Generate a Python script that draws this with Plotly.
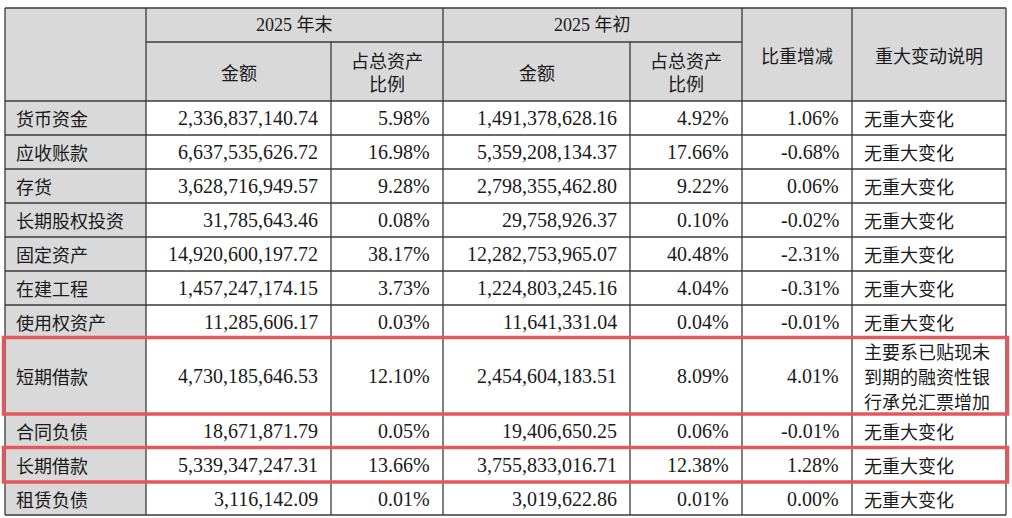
import plotly.graph_objects as go

# ---------------- data ----------------
labels = ["货币资金", "应收账款", "存货", "长期股权投资", "固定资产", "在建工程",
          "使用权资产", "短期借款", "合同负债", "长期借款", "租赁负债"]
end_amount = ["2,336,837,140.74", "6,637,535,626.72", "3,628,716,949.57", "31,785,643.46",
              "14,920,600,197.72", "1,457,247,174.15", "11,285,606.17", "4,730,185,646.53",
              "18,671,871.79", "5,339,347,247.31", "3,116,142.09"]
end_pct = ["5.98%", "16.98%", "9.28%", "0.08%", "38.17%", "3.73%", "0.03%", "12.10%",
           "0.05%", "13.66%", "0.01%"]
begin_amount = ["1,491,378,628.16", "5,359,208,134.37", "2,798,355,462.80", "29,758,926.37",
                "12,282,753,965.07", "1,224,803,245.16", "11,641,331.04", "2,454,604,183.51",
                "19,406,650.25", "3,755,833,016.71", "3,019,622.86"]
begin_pct = ["4.92%", "17.66%", "9.22%", "0.10%", "40.48%", "4.04%", "0.04%", "8.09%",
             "0.06%", "12.38%", "0.01%"]
change_pct = ["1.06%", "-0.68%", "0.06%", "-0.02%", "-2.31%", "-0.31%", "-0.01%", "4.01%",
              "-0.01%", "1.28%", "0.00%"]
notes = ["无重大变化"] * 7 + ["主要系已贴现未到期的融资性银行承兑汇票增加"] + ["无重大变化"] * 3
highlighted = ["短期借款", "长期借款"]

group_headers = ["2025 年末", "2025 年初"]
sub_headers = ["金额", "占总资产<br>比例"]
single_headers = ["比重增减", "重大变动说明"]

# ---------------- layout constants ----------------
W, H = 1012, 518
col_edges = [5, 146, 331, 443, 630, 742, 852, 1006]
top = 8
head_split = 42
head_bottom = 101
row_heights = [34, 34, 34, 34, 34, 34, 33, 76, 34, 34, 33]
NUM_FONT = "Liberation Serif, Noto Sans CJK SC, serif"
CJK_FONT = "Noto Sans CJK SC, sans-serif"
NUM_FS = 20
CJK_FS = 18
NOTE_WRAP = 7
NOTE_LINE = 25
GRID = "#3a3a3a"
GRAY = "#d9d9d9"
RED = "#e3585b"

row_edges = [head_bottom]
for h in row_heights:
    row_edges.append(row_edges[-1] + h)
bottom = row_edges[-1]

shapes = []
annotations = []

def rect(x0, y0, x1, y1, fill):
    shapes.append(dict(type="rect", xref="x", yref="y", x0=x0, y0=y0, x1=x1, y1=y1,
                       fillcolor=fill, line=dict(width=0), layer="below"))

def line(x0, y0, x1, y1, color=GRID, width=1.3):
    shapes.append(dict(type="line", xref="x", yref="y", x0=x0, y0=y0, x1=x1, y1=y1,
                       line=dict(color=color, width=width)))

def text(x, y, s, anchor="center", family=CJK_FONT, size=CJK_FS):
    annotations.append(dict(x=x, y=y, xref="x", yref="y", text=s, showarrow=False,
                            xanchor=anchor, yanchor="middle",
                            font=dict(family=family, size=size, color="#1a1a1a")))

# backgrounds
rect(col_edges[0], top, col_edges[-1], head_bottom, GRAY)
rect(col_edges[0], head_bottom, col_edges[1], bottom, GRAY)
rect(col_edges[1], head_bottom, col_edges[-1], bottom, "white")

# grid
line(col_edges[0], top, col_edges[-1], top)
line(col_edges[1], head_split, col_edges[5], head_split)
for x in col_edges:
    y_start = top
    if x in (col_edges[2], col_edges[4]):
        y_start = head_split
    line(x, y_start, x, bottom)
for y in row_edges:
    line(col_edges[0], y, col_edges[-1], y)

# header text
for gi, gh in enumerate(group_headers):
    xa, xb = col_edges[1 + 2 * gi], col_edges[3 + 2 * gi]
    text((xa + xb) / 2, (top + head_split) / 2, gh,
         family="Liberation Serif, Noto Sans CJK SC", size=CJK_FS)
    for si, sh in enumerate(sub_headers):
        ca, cb = col_edges[1 + 2 * gi + si], col_edges[2 + 2 * gi + si]
        text((ca + cb) / 2, (head_split + head_bottom) / 2, sh)
for si, sh in enumerate(single_headers):
    ca, cb = col_edges[5 + si], col_edges[6 + si]
    text((ca + cb) / 2, (top + head_bottom) / 2, sh)

pad = 11
for i, lab in enumerate(labels):
    yc = (row_edges[i] + row_edges[i + 1]) / 2
    text(col_edges[0] + 9, yc, lab, anchor="left")
    for ci, col in enumerate([end_amount, end_pct, begin_amount, begin_pct, change_pct]):
        text(col_edges[2 + ci] - pad, yc, col[i], anchor="right",
             family=NUM_FONT, size=NUM_FS)
    note = notes[i]
    parts = [note[k:k + NOTE_WRAP] for k in range(0, len(note), NOTE_WRAP)]
    n = len(parts)
    for k, part in enumerate(parts):
        text(col_edges[6] + 10, yc + (k - (n - 1) / 2) * NOTE_LINE, part, anchor="left")

# highlight boxes
for lab in highlighted:
    i = labels.index(lab)
    shapes.append(dict(type="rect", xref="x", yref="y",
                       x0=col_edges[0] - 1.5, x1=col_edges[-1] + 1.5,
                       y0=row_edges[i] - 0.5, y1=row_edges[i + 1],
                       line=dict(color=RED, width=3.5), fillcolor="rgba(0,0,0,0)"))

fig = go.Figure()
fig.update_layout(
    width=W, height=H, margin=dict(l=0, r=0, t=0, b=0),
    paper_bgcolor="white", plot_bgcolor="white",
    xaxis=dict(range=[0, W], visible=False, fixedrange=True),
    yaxis=dict(range=[H, 0], visible=False, fixedrange=True),
    shapes=shapes, annotations=annotations, showlegend=False,
)
fig.write_html("out.html", config={"displayModeBar": False},
               post_script="document.body.style.margin='0';document.body.style.overflow='hidden';")
